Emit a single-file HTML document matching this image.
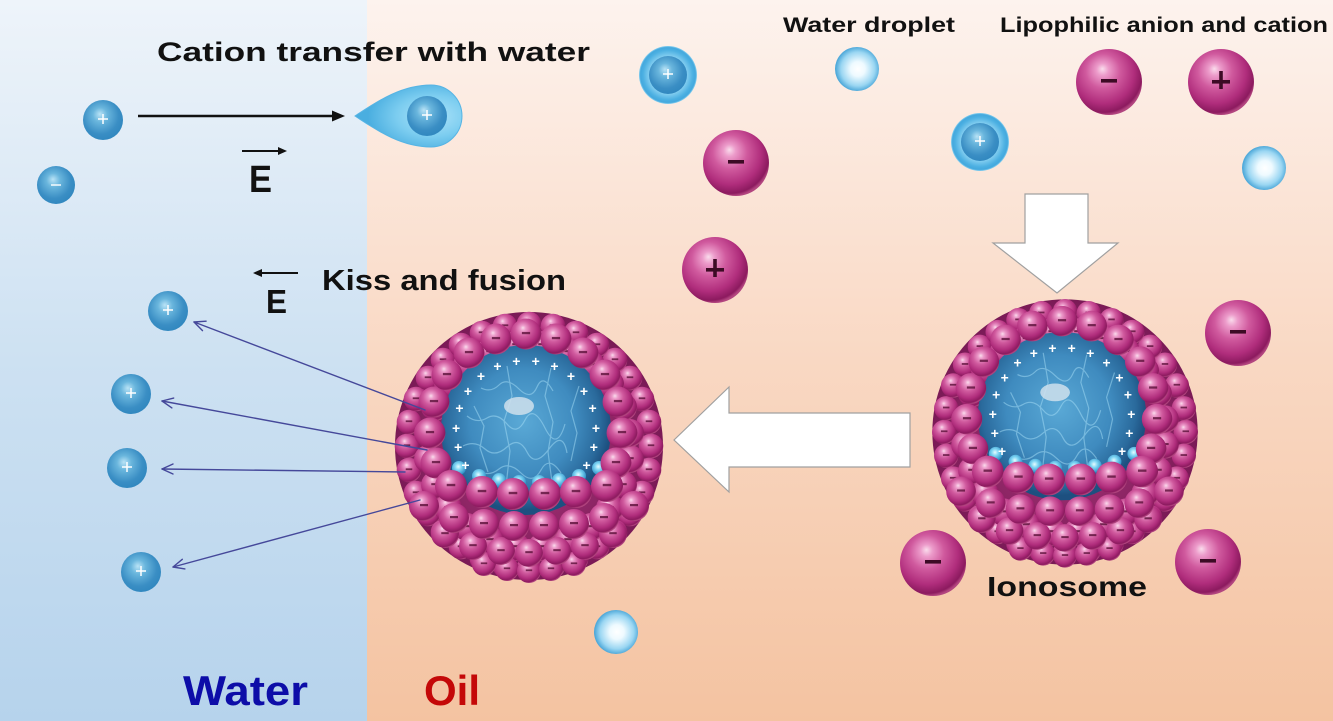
<!DOCTYPE html>
<html><head><meta charset="utf-8"><style>
html,body{margin:0;padding:0;background:#fff;}
svg{display:block;}
text{font-family:"Liberation Sans","DejaVu Sans",sans-serif;font-weight:bold;}
</style></head><body>
<svg width="1333" height="721" viewBox="0 0 1333 721" xmlns="http://www.w3.org/2000/svg">
<defs>
<linearGradient id="gw" x1="0" y1="0" x2="0" y2="1">
<stop offset="0" stop-color="#eef4fa"/><stop offset="0.5" stop-color="#cde1f2"/><stop offset="1" stop-color="#b6d3ec"/>
</linearGradient>
<linearGradient id="go" x1="0" y1="0" x2="0" y2="1">
<stop offset="0" stop-color="#fdf3ee"/><stop offset="0.5" stop-color="#f9d8c3"/><stop offset="1" stop-color="#f4c3a1"/>
</linearGradient>
<radialGradient id="gmag" cx="0.42" cy="0.38" r="0.62" fx="0.4" fy="0.3">
<stop offset="0" stop-color="#fadcec"/><stop offset="0.15" stop-color="#ec9bca"/><stop offset="0.42" stop-color="#d05a9e"/><stop offset="0.75" stop-color="#b02d7c"/><stop offset="0.94" stop-color="#8c1a5f"/><stop offset="1" stop-color="#b2457f"/>
</radialGradient>
<radialGradient id="gbase" cx="0.5" cy="0.5" r="0.5">
<stop offset="0" stop-color="#b13a80"/><stop offset="1" stop-color="#7a1a56"/>
</radialGradient>
<radialGradient id="gcav" cx="0.48" cy="0.45" r="0.52">
<stop offset="0" stop-color="#5aa9d6"/><stop offset="0.6" stop-color="#3f8bbf"/><stop offset="0.88" stop-color="#2a6a9c"/><stop offset="1" stop-color="#1d5080"/>
</radialGradient>
<radialGradient id="gcyan" cx="0.45" cy="0.4" r="0.6">
<stop offset="0" stop-color="#e6fcff"/><stop offset="0.4" stop-color="#80d6f4"/><stop offset="1" stop-color="#2a8cc4"/>
</radialGradient>
<radialGradient id="gblue" cx="0.45" cy="0.42" r="0.6" fx="0.42" fy="0.35">
<stop offset="0" stop-color="#b9e3f6"/><stop offset="0.3" stop-color="#6ab6dd"/><stop offset="0.75" stop-color="#3a8ec4"/><stop offset="1" stop-color="#3087bf"/>
</radialGradient>
<radialGradient id="gshell" cx="0.5" cy="0.5" r="0.5">
<stop offset="0" stop-color="#c2eafb"/><stop offset="0.6" stop-color="#8fd4f3"/><stop offset="0.86" stop-color="#4cb0e2"/><stop offset="0.95" stop-color="#44a8dd"/><stop offset="1" stop-color="#8dd3f1"/>
</radialGradient>
<radialGradient id="gdrop" cx="0.52" cy="0.5" r="0.55">
<stop offset="0" stop-color="#ffffff"/><stop offset="0.3" stop-color="#eefaff"/><stop offset="0.7" stop-color="#9ad6f2"/><stop offset="0.93" stop-color="#4aa6d8"/><stop offset="1" stop-color="#62b4df"/>
</radialGradient>
<radialGradient id="gtear" cx="0.72" cy="0.5" r="0.6">
<stop offset="0" stop-color="#b0e4f9"/><stop offset="0.55" stop-color="#7ccdf0"/><stop offset="1" stop-color="#4aaee0"/>
</radialGradient>

<g id="bd"><circle r="15" fill="url(#gmag)"/><rect x="-4" y="-2" width="8" height="2.2" fill="#5a1038" opacity="0.8"/></g>

<g id="magm"><circle r="33" fill="url(#gmag)"/><rect x="-8" y="-3" width="16" height="3.6" fill="#3d0b25"/></g>
<g id="magp"><circle r="33" fill="url(#gmag)"/><rect x="-9" y="-2" width="18" height="3.6" fill="#3d0b25"/><rect x="-1.8" y="-11" width="3.6" height="18" fill="#3d0b25"/></g>
<g id="bc"><circle r="20" fill="url(#gblue)"/><rect x="-5" y="-2" width="10" height="2" fill="#fff" opacity="0.75"/><rect x="-1" y="-6" width="2" height="10" fill="#fff" opacity="0.75"/></g>
<g id="ba"><circle r="19" fill="url(#gblue)"/><rect x="-5" y="-1" width="10" height="2" fill="#fff" opacity="0.7"/></g>
<g id="bsh"><circle r="29" fill="url(#gshell)"/><circle r="19" fill="url(#gblue)"/><rect x="-5" y="-2" width="10" height="2" fill="#fff" opacity="0.75"/><rect x="-1" y="-6" width="2" height="10" fill="#fff" opacity="0.75"/></g>
<g id="drop"><circle r="22" fill="url(#gdrop)"/></g>

<g id="iono">
<circle r="134" fill="url(#gbase)"/>
<!-- outer ring -->
<g>
<use href="#bd" transform="translate(122,0) scale(.82)"/><use href="#bd" transform="translate(-122,0) scale(.82)"/><use href="#bd" transform="translate(0,122) scale(.82)"/><use href="#bd" transform="translate(0,-122) scale(.82)"/>
<use href="#bd" transform="translate(120,24) scale(.82)"/><use href="#bd" transform="translate(120,-24) scale(.82)"/><use href="#bd" transform="translate(-120,24) scale(.82)"/><use href="#bd" transform="translate(-120,-24) scale(.82)"/>
<use href="#bd" transform="translate(113,47) scale(.82)"/><use href="#bd" transform="translate(113,-47) scale(.82)"/><use href="#bd" transform="translate(-113,47) scale(.82)"/><use href="#bd" transform="translate(-113,-47) scale(.82)"/>
<use href="#bd" transform="translate(101,68) scale(.82)"/><use href="#bd" transform="translate(101,-68) scale(.82)"/><use href="#bd" transform="translate(-101,68) scale(.82)"/><use href="#bd" transform="translate(-101,-68) scale(.82)"/>
<use href="#bd" transform="translate(86,86) scale(.82)"/><use href="#bd" transform="translate(86,-86) scale(.82)"/><use href="#bd" transform="translate(-86,86) scale(.82)"/><use href="#bd" transform="translate(-86,-86) scale(.82)"/>
<use href="#bd" transform="translate(68,101) scale(.82)"/><use href="#bd" transform="translate(68,-101) scale(.82)"/><use href="#bd" transform="translate(-68,101) scale(.82)"/><use href="#bd" transform="translate(-68,-101) scale(.82)"/>
<use href="#bd" transform="translate(47,113) scale(.82)"/><use href="#bd" transform="translate(47,-113) scale(.82)"/><use href="#bd" transform="translate(-47,113) scale(.82)"/><use href="#bd" transform="translate(-47,-113) scale(.82)"/>
<use href="#bd" transform="translate(24,120) scale(.82)"/><use href="#bd" transform="translate(24,-120) scale(.82)"/><use href="#bd" transform="translate(-24,120) scale(.82)"/><use href="#bd" transform="translate(-24,-120) scale(.82)"/>
</g>
<!-- mid ring -->
<g>
<use href="#bd" transform="translate(101,13) scale(.93)"/><use href="#bd" transform="translate(94,39) scale(.93)"/><use href="#bd" transform="translate(81,62) scale(.93)"/><use href="#bd" transform="translate(62,81) scale(.93)"/><use href="#bd" transform="translate(39,94) scale(.93)"/><use href="#bd" transform="translate(13,101) scale(.93)"/>
<use href="#bd" transform="translate(-101,13) scale(.93)"/><use href="#bd" transform="translate(-94,39) scale(.93)"/><use href="#bd" transform="translate(-81,62) scale(.93)"/><use href="#bd" transform="translate(-62,81) scale(.93)"/><use href="#bd" transform="translate(-39,94) scale(.93)"/><use href="#bd" transform="translate(-13,101) scale(.93)"/>
<use href="#bd" transform="translate(101,-13) scale(.93)"/><use href="#bd" transform="translate(94,-39) scale(.93)"/><use href="#bd" transform="translate(81,-62) scale(.93)"/><use href="#bd" transform="translate(62,-81) scale(.93)"/><use href="#bd" transform="translate(39,-94) scale(.93)"/><use href="#bd" transform="translate(13,-101) scale(.93)"/>
<use href="#bd" transform="translate(-101,-13) scale(.93)"/><use href="#bd" transform="translate(-94,-39) scale(.93)"/><use href="#bd" transform="translate(-81,-62) scale(.93)"/><use href="#bd" transform="translate(-62,-81) scale(.93)"/><use href="#bd" transform="translate(-39,-94) scale(.93)"/><use href="#bd" transform="translate(-13,-101) scale(.93)"/>
</g>
<!-- cavity -->
<circle cx="-3" cy="-16" r="85" fill="url(#gcav)"/>
<g fill="none" stroke="#a6def6" stroke-width="1.2" opacity="0.5">
<path d="M-62,-30 q10,8 20,2 t20,6 t18,-4 t20,8 t20,-4"/>
<path d="M-66,0 q12,-6 22,3 t22,-2 t20,5 t22,-3 t18,4"/>
<path d="M-50,25 q10,6 20,-2 t22,4 t20,-3 t20,3"/>
<path d="M-48,-58 q10,5 18,-3 t20,4 t18,-2 t16,4"/>
<path d="M-22,-80 l5,30 l-8,25 l6,30 l-4,35"/>
<path d="M22,-78 l-6,28 l8,26 l-5,30 l4,30"/>
<path d="M50,-60 l-8,25 l6,22 l-6,28"/>
<path d="M-55,-40 l10,20 l-4,22 l8,24"/>
</g>
<ellipse cx="-10" cy="-40" rx="15" ry="9" fill="#cfe0ec" opacity="0.85"/>
<g fill="url(#gcyan)">
<circle cx="-70" cy="22" r="7"/><circle cx="-50" cy="30" r="7"/><circle cx="-30" cy="34" r="7"/><circle cx="-10" cy="36" r="7"/><circle cx="10" cy="36" r="7"/><circle cx="30" cy="34" r="7"/><circle cx="50" cy="30" r="7"/><circle cx="70" cy="22" r="7"/>
</g>
<g fill="#ffffff" font-size="14" text-anchor="middle" dominant-baseline="central" style="font-family:'DejaVu Sans',sans-serif;font-weight:bold">
<text x="-63.6" y="19">+</text><text x="-70.9" y="1">+</text><text x="-72.9" y="-18">+</text><text x="-69.6" y="-38">+</text><text x="-61" y="-55">+</text><text x="-48" y="-70">+</text><text x="-31.5" y="-80">+</text><text x="-12.7" y="-85">+</text><text x="6.7" y="-85">+</text><text x="25.5" y="-80">+</text><text x="42" y="-70">+</text><text x="55" y="-55">+</text><text x="63.6" y="-38">+</text><text x="67" y="-18">+</text><text x="64.9" y="1">+</text><text x="57.6" y="19">+</text>
</g>
<!-- lower rows back to front -->
<g>
<use href="#bd" transform="translate(-45,118) scale(.8)"/><use href="#bd" transform="translate(-22,123) scale(.8)"/><use href="#bd" transform="translate(0,125) scale(.8)"/><use href="#bd" transform="translate(22,123) scale(.8)"/><use href="#bd" transform="translate(45,118) scale(.8)"/>
</g>
<g>
<use href="#bd" transform="translate(-84,88) scale(.93)"/><use href="#bd" transform="translate(-56,100) scale(.93)"/><use href="#bd" transform="translate(-28,105) scale(.93)"/><use href="#bd" transform="translate(0,107) scale(.93)"/><use href="#bd" transform="translate(28,105) scale(.93)"/><use href="#bd" transform="translate(56,100) scale(.93)"/><use href="#bd" transform="translate(84,88) scale(.93)"/>
</g>
<g>
<use href="#bd" transform="translate(-105,60)"/><use href="#bd" transform="translate(-75,72)"/><use href="#bd" transform="translate(-45,78)"/><use href="#bd" transform="translate(-15,80)"/><use href="#bd" transform="translate(15,80)"/><use href="#bd" transform="translate(45,78)"/><use href="#bd" transform="translate(75,72)"/><use href="#bd" transform="translate(105,60)"/>
</g>
<!-- rim -->
<g>
<use href="#bd" transform="translate(-93,17) scale(1.03)"/><use href="#bd" transform="translate(-99,-13) scale(1.03)"/><use href="#bd" transform="translate(-95,-44) scale(1.03)"/><use href="#bd" transform="translate(-82,-71) scale(1.03)"/><use href="#bd" transform="translate(-60,-93) scale(1.03)"/><use href="#bd" transform="translate(-33,-107) scale(1.03)"/><use href="#bd" transform="translate(-3,-112) scale(1.03)"/><use href="#bd" transform="translate(27,-107) scale(1.03)"/><use href="#bd" transform="translate(54,-93) scale(1.03)"/><use href="#bd" transform="translate(76,-71) scale(1.03)"/><use href="#bd" transform="translate(89,-44) scale(1.03)"/><use href="#bd" transform="translate(93,-13) scale(1.03)"/><use href="#bd" transform="translate(87,17) scale(1.03)"/>
</g>
<!-- front row -->
<g>
<use href="#bd" transform="translate(-78,40) scale(1.07)"/><use href="#bd" transform="translate(-47,46) scale(1.07)"/><use href="#bd" transform="translate(-16,48) scale(1.07)"/><use href="#bd" transform="translate(16,48) scale(1.07)"/><use href="#bd" transform="translate(47,46) scale(1.07)"/><use href="#bd" transform="translate(78,40) scale(1.07)"/>
</g>
</g>
</defs>

<!-- backgrounds -->
<rect x="0" y="0" width="367" height="721" fill="url(#gw)"/>
<rect x="367" y="0" width="966" height="721" fill="url(#go)"/>

<!-- texts -->
<text x="157" y="61" font-size="27" fill="#111" textLength="433" lengthAdjust="spacingAndGlyphs">Cation transfer with water</text>
<text x="783" y="32" font-size="21" fill="#111" textLength="172" lengthAdjust="spacingAndGlyphs">Water droplet</text>
<text x="1000" y="32" font-size="21" fill="#111" textLength="328" lengthAdjust="spacingAndGlyphs">Lipophilic anion and cation</text>
<text x="322" y="290" font-size="29" fill="#111" textLength="244" lengthAdjust="spacingAndGlyphs">Kiss and fusion</text>
<text x="987" y="596" font-size="28" fill="#111" textLength="160" lengthAdjust="spacingAndGlyphs">Ionosome</text>
<text x="183" y="705" font-size="42" fill="#0d0da8" textLength="125" lengthAdjust="spacingAndGlyphs">Water</text>
<text x="424" y="705" font-size="42" fill="#c40808" textLength="56" lengthAdjust="spacingAndGlyphs">Oil</text>

<!-- E vectors -->
<line x1="242" y1="151" x2="280" y2="151" stroke="#111" stroke-width="2"/>
<polygon points="287,151 278,147 278,155" fill="#111"/>
<text x="249" y="192" font-size="38" fill="#111" textLength="23" lengthAdjust="spacingAndGlyphs">E</text>
<line x1="298" y1="273" x2="260" y2="273" stroke="#111" stroke-width="2"/>
<polygon points="253,273 262,269 262,277" fill="#111"/>
<text x="266" y="313" font-size="33" fill="#111" textLength="21" lengthAdjust="spacingAndGlyphs">E</text>

<!-- top black arrow -->
<line x1="138" y1="116" x2="334" y2="116" stroke="#111" stroke-width="2.5"/>
<polygon points="345,116 332,110.5 332,121.5" fill="#111"/>

<!-- water side ions -->
<use href="#bc" x="103" y="120"/>
<use href="#ba" x="56" y="185"/>
<path d="M355,116 C375,103 400,85 431,85 A31,31 0 0 1 431,147 C400,147 375,129 355,116 Z" fill="url(#gtear)" stroke="#56b4e4" stroke-width="1"/>
<use href="#bc" x="427" y="116"/>
<use href="#bc" x="168" y="311"/>
<use href="#bc" x="131" y="394"/>
<use href="#bc" x="127" y="468"/>
<use href="#bc" x="141" y="572"/>

<!-- oil side ions -->
<use href="#bsh" x="668" y="75"/>
<use href="#drop" x="857" y="69"/>
<use href="#magm" x="1109" y="82"/>
<use href="#magp" x="1221" y="82"/>
<use href="#magm" x="736" y="163"/>
<use href="#bsh" x="980" y="142"/>
<use href="#drop" x="1264" y="168"/>
<use href="#magp" x="715" y="270"/>
<use href="#magm" x="1238" y="333"/>
<use href="#magm" x="933" y="563"/>
<use href="#magm" x="1208" y="562"/>
<use href="#drop" x="616" y="632"/>

<!-- ionosomes -->
<use href="#iono" transform="translate(529,446)"/>
<use href="#iono" transform="translate(1065,432) scale(0.99)"/>

<!-- big white arrows -->
<polygon points="674,440 729,387 729,413 910,413 910,467 729,467 729,492" fill="#ffffff" stroke="#a0a0a0" stroke-width="1.2"/>
<polygon points="1025,194 1088,194 1088,243 1118,243 1057,293 993,243 1025,243" fill="#ffffff" stroke="#a0a0a0" stroke-width="1.2"/>

<!-- thin arrows -->
<g stroke="#45489a" stroke-width="1.4" fill="none" stroke-linecap="round" stroke-linejoin="round">
<line x1="425" y1="410" x2="194" y2="322"/>
<polyline points="206.1,321.2 194,322 202.5,330.6"/>
<line x1="427" y1="450" x2="162" y2="401"/>
<polyline points="173.7,398.1 162,401 171.9,407.9"/>
<line x1="405" y1="472" x2="162" y2="469"/>
<polyline points="173,464 162,469 173,474"/>
<line x1="420" y1="500" x2="173" y2="567"/>
<polyline points="182.3,559.3 173,567 184.9,568.9"/>
</g>
</svg>
</body></html>
